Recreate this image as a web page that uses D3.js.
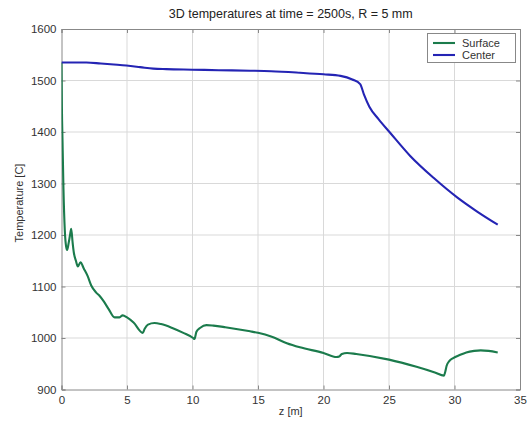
<!DOCTYPE html>
<html><head><meta charset="utf-8">
<script src="https://cdn.jsdelivr.net/npm/d3@7"></script>
<style>body{margin:0;background:#fff}svg{font-family:"Liberation Sans",Arial,sans-serif}</style>
</head><body><svg id="c" width="529" height="423"></svg>
<script>
const xTicks=[0,5,10,15,20,25,30,35];
const yTicks=[900,1000,1100,1200,1300,1400,1500,1600];
const seriesNames=["Surface","Center"];
const surfaceZ=[0,0.03,0.08,0.15,0.25,0.35,0.43,0.55,0.65,0.74,0.85,0.94,1.1,1.25,1.45,1.7,2.0,2.27,2.65,2.9,3.2,3.6,4.05,4.43,4.67,5.0,5.5,6.2,6.35,6.6,7.1,7.6,8.5,9.3,10.05,10.15,10.3,10.6,11.06,11.6,12.5,14.4,15.0,16.0,17.2,18.2,20.0,21.0,21.2,21.4,21.8,22.5,25.0,27.1,28.5,29.2,29.3,29.4,29.6,29.9,30.4,30.9,31.5,32.0,32.6,33.3];
const surfaceT=[1535,1450,1380,1290,1210,1178,1171,1185,1200,1212,1185,1166,1150,1139,1147,1135,1120,1102,1088,1082,1072,1056,1040,1040,1044,1040,1030,1010,1018,1026,1029,1027,1019,1010,1000,998,1012,1020,1025,1024,1021,1013,1010,1003,990,982,971,963,964,969,971,969,958,944,933,927,935,946,955,961,967,972,975,976,975,972];
const centerZ=[0,1,1.9,3,4,4.95,6,7,8,10,12,14.4,16,18.2,20,21.3,22.2,22.8,23.1,23.5,24.2,25.1,26.6,28.4,30.2,31.7,33.3];
const centerT=[1535,1535,1535,1533,1531,1529,1526,1523,1522,1521,1520,1519,1518,1515,1512,1509,1502,1493,1472,1449,1425,1398,1354,1311,1273,1246,1220];
const colors=["#1b7b4c","#2424b4"];

const svg=d3.select("#c");
const L=61.5,R=520,T=29,B=389.5;
const x=d3.scaleLinear().domain([0,35]).range([L,R]);
const y=d3.scaleLinear().domain([900,1600]).range([B,T]);

// grid
const g=svg.append("g");
g.selectAll(".gx").data(xTicks.slice(1,-1)).join("line")
 .attr("x1",d=>x(d)).attr("x2",d=>x(d)).attr("y1",T).attr("y2",B)
 .attr("stroke","#d9d9d9").attr("stroke-width",1);
g.selectAll(".gy").data(yTicks.slice(1,-1)).join("line")
 .attr("y1",d=>y(d)).attr("y2",d=>y(d)).attr("x1",L).attr("x2",R)
 .attr("stroke","#d9d9d9").attr("stroke-width",1);

// axes
const xAxis=d3.axisBottom(x).tickValues(xTicks).tickSize(-4).tickPadding(6).tickFormat(d3.format("d"));
const yAxis=d3.axisLeft(y).tickValues(yTicks).tickSize(-4).tickPadding(5).tickFormat(d3.format("d"));
const ax=svg.append("g").attr("transform",`translate(0,${B})`).call(xAxis);
const ay=svg.append("g").attr("transform",`translate(${L},0)`).call(yAxis);
const axt=svg.append("g").attr("transform",`translate(0,${T})`).call(d3.axisTop(x).tickValues(xTicks).tickSize(-4).tickFormat(""));
const ayr=svg.append("g").attr("transform",`translate(${R},0)`).call(d3.axisRight(y).tickValues(yTicks).tickSize(-4).tickFormat(""));
[ax,ay,axt,ayr].forEach(a=>{a.select(".domain").attr("stroke","#888").attr("stroke-width",1);
 a.selectAll(".tick line").attr("stroke","#888");
 a.selectAll("text").attr("font-size","11.5px").attr("fill","#333").attr("font-family","Liberation Sans, Arial, sans-serif");});

// lines
const line=d3.line().x(d=>x(d[0])).y(d=>y(d[1])).curve(d3.curveMonotoneX);
const sData=surfaceZ.map((z,i)=>[z,surfaceT[i]]);
const cData=centerZ.map((z,i)=>[z,centerT[i]]);
svg.append("clipPath").attr("id","cp").append("rect").attr("x",L).attr("y",T).attr("width",R-L).attr("height",B-T);
svg.append("path").datum(sData).attr("d",line).attr("fill","none").attr("stroke",colors[0]).attr("stroke-width",2.1).attr("stroke-linejoin","round").attr("clip-path","url(#cp)");
svg.append("path").datum(cData).attr("d",line).attr("fill","none").attr("stroke",colors[1]).attr("stroke-width",2.1).attr("clip-path","url(#cp)");

// title & labels
svg.append("text").attr("x",(L+R)/2).attr("y",18).attr("text-anchor","middle").attr("font-size","12.5px").attr("fill","#222").text("3D temperatures at time = 2500s, R = 5 mm");
svg.append("text").attr("x",(L+R)/2).attr("y",415).attr("text-anchor","middle").attr("font-size","11px").attr("fill","#333").text("z [m]");
svg.append("text").attr("transform","translate(23,203) rotate(-90)").attr("text-anchor","middle").attr("font-size","11px").attr("fill","#333").text("Temperature [C]");

// legend
const lg=svg.append("g");
lg.append("rect").attr("x",427.5).attr("y",33.5).attr("width",88).attr("height",29).attr("fill","#fff").attr("stroke","#888");
seriesNames.forEach((n,i)=>{
 const yy=43+i*12;
 lg.append("line").attr("x1",433).attr("x2",455).attr("y1",yy).attr("y2",yy).attr("stroke",colors[i]).attr("stroke-width",2.1);
 lg.append("text").attr("x",462).attr("y",yy+4).attr("font-size","11px").attr("fill","#333").text(n);
});
</script></body></html>
